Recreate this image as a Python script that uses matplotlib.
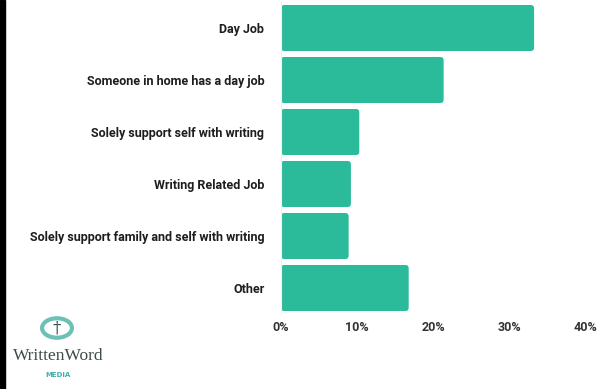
import matplotlib
matplotlib.use('Agg')
import matplotlib.pyplot as plt
from matplotlib.patches import Rectangle, Circle, FancyBboxPatch

categories = ['Day Job',
              'Someone in home has a day job',
              'Solely support self with writing',
              'Writing Related Job',
              'Solely support family and self with writing',
              'Other']
values = [33.3, 21.4, 10.3, 9.2, 8.9, 16.8]
xticks = [0, 10, 20, 30, 40]
xtick_labels = ['0%', '10%', '20%', '30%', '40%']

bar_color = '#2bbb9a'
lab_font = dict(family=['Roboto', 'DejaVu Sans'], fontweight='bold')

fig = plt.figure(figsize=(5.97, 3.89), dpi=100)
ax = fig.add_axes([281/597, 1-314/389, 304/597, 312/389])

ypos = list(range(len(categories)))
bars = ax.barh(ypos, values, height=0.885, color=bar_color)
# swap plain rectangles for slightly rounded ones
for b in bars:
    x0, y0, w, h = b.get_x(), b.get_y(), b.get_width(), b.get_height()
    b.set_visible(False)
    ax.add_patch(FancyBboxPatch((x0, y0), w, h,
                                boxstyle='round,pad=0,rounding_size=0.45',
                                mutation_aspect=0.14,
                                facecolor=bar_color, edgecolor='none'))
ax.set_xlim(0, 40)
ax.set_ylim(len(categories)-0.5, -0.5)

ax.set_yticks(ypos)
ax.set_yticklabels(categories, fontsize=9, color='#1e1e1e', **lab_font)
ax.set_xticks(xticks)
ax.set_xticklabels(xtick_labels, fontsize=9, color='#333333', **lab_font)
ax.tick_params(length=0, pad=12, axis='y')
ax.tick_params(length=0, pad=5, axis='x')
for s in ['top', 'right', 'bottom']:
    ax.spines[s].set_visible(False)
ax.spines['left'].set_color('#f0f0f0')

fig.patches.append(Rectangle((0, 0), 5/597, 1, transform=fig.transFigure,
                             color='black', zorder=5))

# logo
fig.patches.append(Circle((57/597, 1-328/389), 0.025, transform=fig.transFigure,
                          facecolor='none', edgecolor='#6cc0b8', lw=3))
fig.text(57/597, 1-328/389, '\u2020', fontsize=12, color='#2f4f4f',
         ha='center', va='center', family='DejaVu Serif')
fig.text(58/597, 1-356/389, 'WrittenWord', fontsize=12.5, color='#3f4a4a',
         ha='center', va='center', family='Liberation Serif')
fig.text(58/597, 1-375/389, 'MEDIA', fontsize=5, color='#3fb0a8',
         ha='center', va='center', fontweight='bold')

fig.savefig('out.png', dpi=100)
